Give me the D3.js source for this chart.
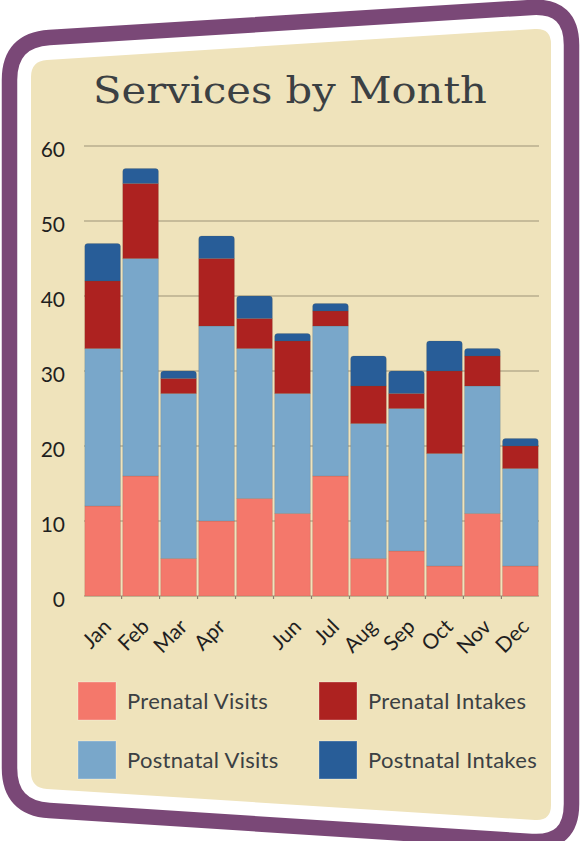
<!DOCTYPE html>
<html>
<head>
<meta charset="utf-8">
<script src="https://cdn.jsdelivr.net/npm/d3@7"></script>
<style>
  body { margin: 0; background: #fff; }
  svg { display: block; }
</style>
</head>
<body>
<div id="container"></div>
<script>
// data
var months = ["Jan","Feb","Mar","Apr","May","Jun","Jul","Aug","Sep","Oct","Nov","Dec"]
var monthLabels = ["Jan","Feb","Mar","Apr","","Jun","Jul","Aug","Sep","Oct","Nov","Dec"]
var prenatalVisits   = [12,16,5,10,13,11,16,5,6,4,11,4]
var postnatalVisits  = [21,29,22,26,20,16,20,18,19,15,17,13]
var prenatalIntakes  = [9,10,2,9,4,7,2,5,2,11,4,3]
var postnatalIntakes = [5,2,1,3,3,1,1,4,3,4,1,1]
var yTicks = [0,10,20,30,40,50,60]

var seriesNames = ["Prenatal Visits","Postnatal Visits","Prenatal Intakes","Postnatal Intakes"]
var seriesKeys = ["pv","pov","pi","poi"]
var colors = {pv:"#f4786b", pov:"#79a7ca", pi:"#ad2220", poi:"#285d98"}

var W = 580, H = 841
var svg = d3.select("#container").append("svg").attr("width",W).attr("height",H)

// rounded quadrilateral for the tilted card
function roundedQuad(pts, r){
    var n = pts.length, p = ""
    for(var i=0;i<n;i++){
        var prev = pts[(i+n-1)%n], cur = pts[i], next = pts[(i+1)%n]
        var d1 = Math.hypot(prev[0]-cur[0],prev[1]-cur[1])
        var d2 = Math.hypot(next[0]-cur[0],next[1]-cur[1])
        var a = [cur[0]+(prev[0]-cur[0])*r/d1, cur[1]+(prev[1]-cur[1])*r/d1]
        var b = [cur[0]+(next[0]-cur[0])*r/d2, cur[1]+(next[1]-cur[1])*r/d2]
        p += (i==0?"M":"L")+a[0]+","+a[1]+"Q"+cur[0]+","+cur[1]+" "+b[0]+","+b[1]
    }
    return p+"Z"
}

svg.append("path")
    .attr("d",roundedQuad([[9.5,40],[571.5,5],[571.5,844],[9.5,808]],40))
    .attr("fill","#fff")
    .attr("stroke","#7a4877")
    .attr("stroke-width",15.5)

svg.append("path")
    .attr("d",roundedQuad([[31,61],[551,28],[551,821],[31,788]],16))
    .attr("fill","#efe3bb")

// title - the original face is a wide serif, so stretch it sideways
var title = svg.append("text")
    .attr("x",0).attr("y",0)
    .attr("text-anchor","middle")
    .attr("font-family","DejaVu Serif")
    .attr("font-size",37)
    .attr("fill","#3b4043")
    .text("Services by Month")
var tl = title.node().getComputedTextLength()
title.attr("transform","translate(290,103) scale("+(394/tl)+",1)")

// chart
var x = d3.scaleBand().domain(months).range([84,539]).paddingInner(0.06).paddingOuter(0.02)
var y = d3.scaleLinear().domain([0,60]).range([596,146])

svg.append("g").selectAll("line")
    .data(yTicks).enter().append("line")
    .attr("x1",84).attr("x2",539)
    .attr("y1",function(d){return y(d)}).attr("y2",function(d){return y(d)})
    .attr("stroke","#b9ae8e").attr("stroke-width",1.5)

svg.append("g").selectAll("text")
    .data(yTicks).enter().append("text")
    .attr("x",65).attr("y",function(d){return y(d)+11})
    .attr("text-anchor","end")
    .attr("font-family","Lato")
    .attr("font-size",21)
    .attr("fill","#1f1f1f")
    .text(function(d){return d})

var rows = months.map(function(m,i){
    return {month:m, pv:prenatalVisits[i], pov:postnatalVisits[i], pi:prenatalIntakes[i], poi:postnatalIntakes[i]}
})
var stacked = d3.stack().keys(seriesKeys)(rows)

stacked.forEach(function(layer){
    var isTop = layer.key=="poi"
    svg.append("g").selectAll("path")
        .data(layer).enter().append("path")
        .attr("fill",colors[layer.key])
        .attr("stroke","rgba(90,80,60,0.25)")
        .attr("stroke-width",0.6)
        .attr("d",function(d){
            var x0 = x(d.data.month), w = x.bandwidth()
            var y0 = y(d[0]), y1 = y(d[1])
            var r = isTop ? Math.min(3,(y0-y1)/2) : 0
            return "M"+x0+","+y0+"L"+x0+","+(y1+r)+"Q"+x0+","+y1+" "+(x0+r)+","+y1
                +"L"+(x0+w-r)+","+y1+"Q"+(x0+w)+","+y1+" "+(x0+w)+","+(y1+r)
                +"L"+(x0+w)+","+y0+"Z"
        })
})

// little tick marks between bars
var step = x.step()
svg.append("g").selectAll("line")
    .data(months.slice(1)).enter().append("line")
    .attr("x1",function(d){return x(d)-step*0.03}).attr("x2",function(d){return x(d)-step*0.03})
    .attr("y1",596).attr("y2",599)
    .attr("stroke","#8a8170").attr("stroke-width",1.2)

svg.append("g").selectAll("text")
    .data(months).enter().append("text")
    .attr("transform",function(d){
        return "translate("+(x(d)+x.bandwidth()/2+10)+",628) rotate(-45)"
    })
    .attr("text-anchor","end")
    .attr("font-family","Lato")
    .attr("font-size",21)
    .attr("fill","#1f1f1f")
    .text(function(d,i){return monthLabels[i]})

// legend
var legendPos = [[78,682],[78,741],[319,682],[319,741]]
var legend = svg.append("g").selectAll("g")
    .data(seriesNames).enter().append("g")
    .attr("transform",function(d,i){return "translate("+legendPos[i][0]+","+legendPos[i][1]+")"})
legend.append("rect")
    .attr("width",38).attr("height",38)
    .attr("fill",function(d,i){return colors[seriesKeys[i]]})
    .attr("stroke","rgba(255,255,255,0.3)").attr("stroke-width",1)
legend.append("text")
    .attr("x",49).attr("y",27)
    .attr("font-family","Lato")
    .attr("font-size",22)
    .attr("letter-spacing",0.3)
    .attr("fill","#3b4043")
    .text(function(d){return d})
</script>
</body>
</html>
